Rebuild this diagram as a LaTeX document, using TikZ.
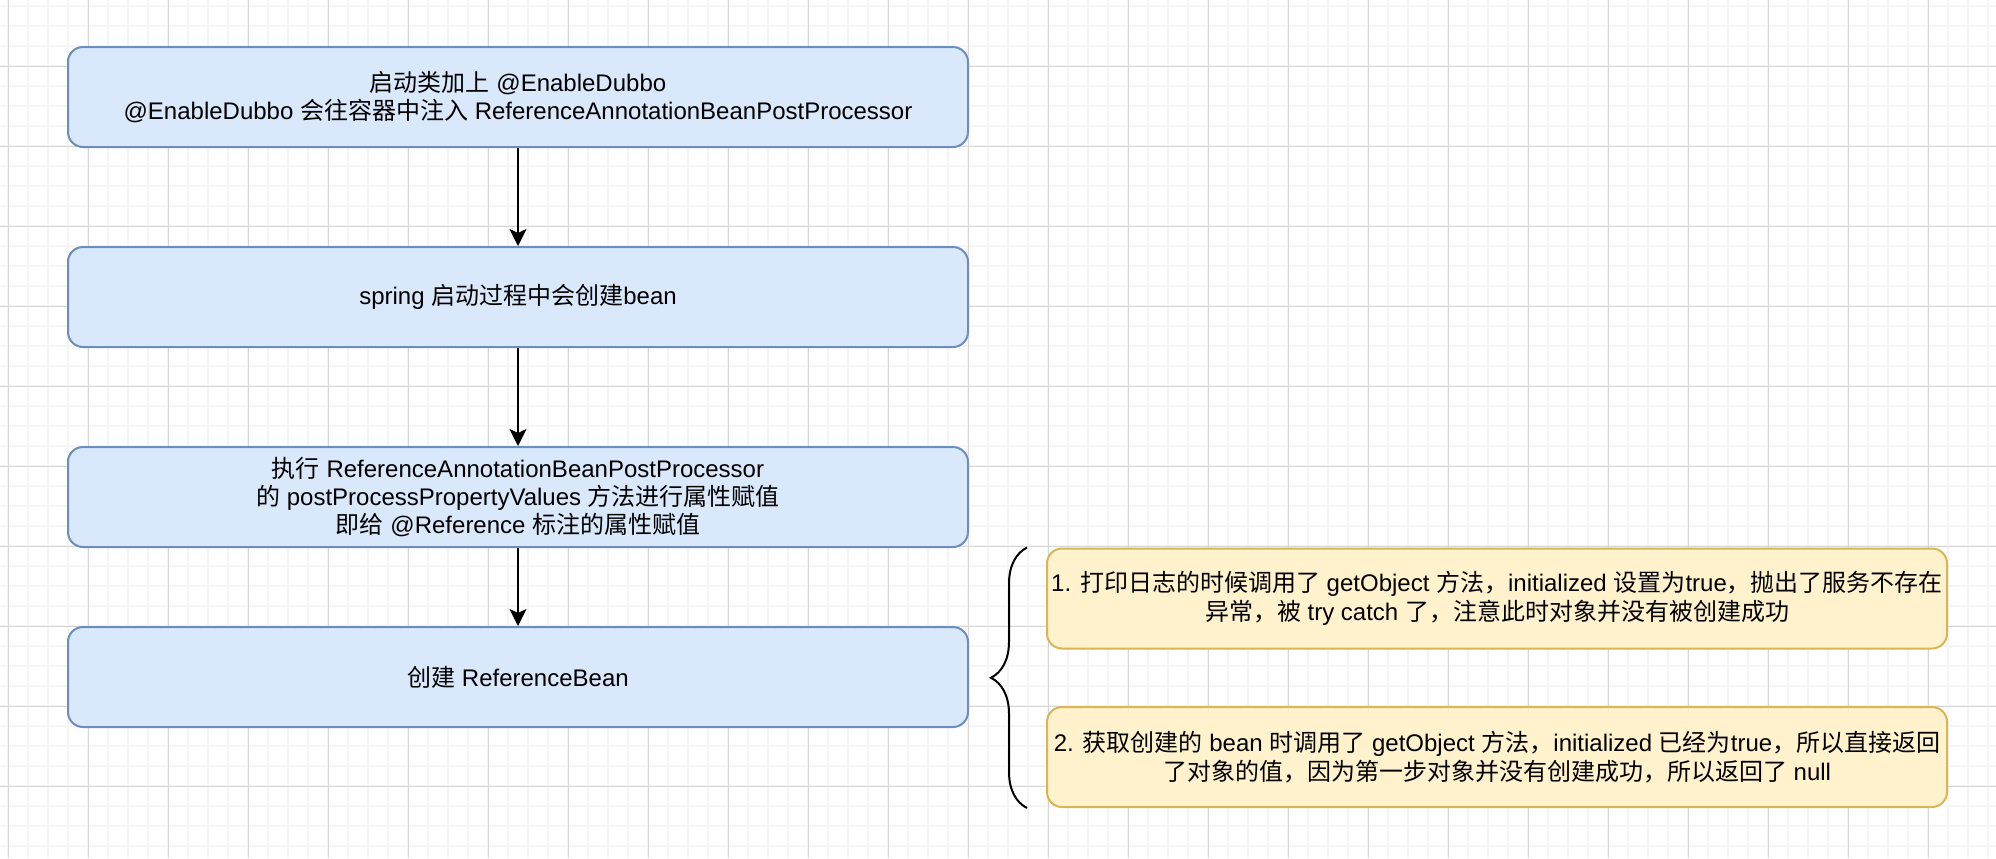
\documentclass[tikz,border=0pt]{standalone}
\usepackage{fontspec}
\setmainfont{Liberation Sans}
\newfontfamily\cjk{Noto Sans CJK SC}
\newcommand{\zh}[1]{{\cjk #1}}
\usetikzlibrary{arrows.meta, decorations.pathreplacing}
\definecolor{DioBlue}{HTML}{DAE8FC}
\definecolor{DioBlueLine}{HTML}{6C8EBF}
\definecolor{DioYellow}{HTML}{FFF2CC}
\definecolor{DioYellowLine}{HTML}{D6B656}
\definecolor{GridMinor}{HTML}{F5F5F5}
\definecolor{GridMajor}{HTML}{D6D6D6}

\begin{document}
\begin{tikzpicture}[x=0.5pt, y=-0.5pt,
    stepbox/.style={rectangle, rounded corners=7.5pt, draw=DioBlueLine, fill=DioBlue,
                    line width=1pt, minimum width=450pt, minimum height=50pt,
                    inner xsep=1pt, align=center, font=\fontsize{12}{14.2}\selectfont},
    notebox/.style={stepbox, draw=DioYellowLine, fill=DioYellow},
    arr/.style={-{Stealth[length=8.5pt, width=8.5pt, inset=2pt]}, line width=1pt}
  ]
  \fill[white] (0,0) rectangle (1996,858);
  \useasboundingbox (0,0) rectangle (1996,858);

  % background grid
  \foreach \x in {8,28,...,1996}
    \draw[GridMinor, line width=0.8pt] (\x,0) -- (\x,858);
  \foreach \y in {6,26,...,858}
    \draw[GridMinor, line width=0.8pt] (0,\y) -- (1996,\y);
  \foreach \x in {8,88,...,1996}
    \draw[GridMajor, line width=0.5pt] (\x,0) -- (\x,858);
  \foreach \y in {66,146,...,858}
    \draw[GridMajor, line width=0.5pt] (0,\y) -- (1996,\y);

  \node[stepbox] (enable) at (518,97)
        {\zh{启动类加上} @EnableDubbo\\
         @EnableDubbo \zh{会往容器中注入} ReferenceAnnotationBeanPostProcessor};
  \node[stepbox] (spring) at (518,297)
        {spring \zh{启动过程中会创建}bean};
  \node[stepbox] (inject) at (518,497)
        {\zh{执行} ReferenceAnnotationBeanPostProcessor\\
         \zh{的} postProcessPropertyValues \zh{方法进行属性赋值}\\
         \zh{即给} @Reference \zh{标注的属性赋值}};
  \node[stepbox] (refbean) at (518,677)
        {\zh{创建} ReferenceBean};

  \node[notebox] (first) at (1497,598.5)
        {1. \zh{打印日志的时候调用了} getObject \zh{方法，}initialized \zh{设置为}true\zh{，抛出了服务不存在}\\
         \zh{异常，被} try catch \zh{了，注意此时对象并没有被创建成功}};
  \node[notebox] (second) at (1497,757)
        {2. \zh{获取创建的} bean \zh{时调用了} getObject \zh{方法，}initialized \zh{已经为}true\zh{，所以直接返回}\\
         \zh{了对象的值，因为第一步对象并没有创建成功，所以返回了} null};

  \draw[arr] (enable) -- (spring);
  \draw[arr] (spring) -- (inject);
  \draw[arr] (inject) -- (refbean);

  \coordinate (bracetop) at ([xshift=-9.5pt]first.north west);
  \coordinate (bracebot) at ([xshift=-9.5pt]second.south west);
  \draw[decorate, decoration={brace, amplitude=18pt}, line width=1pt]
       (bracebot) -- (bracetop);
\end{tikzpicture}
\end{document}
